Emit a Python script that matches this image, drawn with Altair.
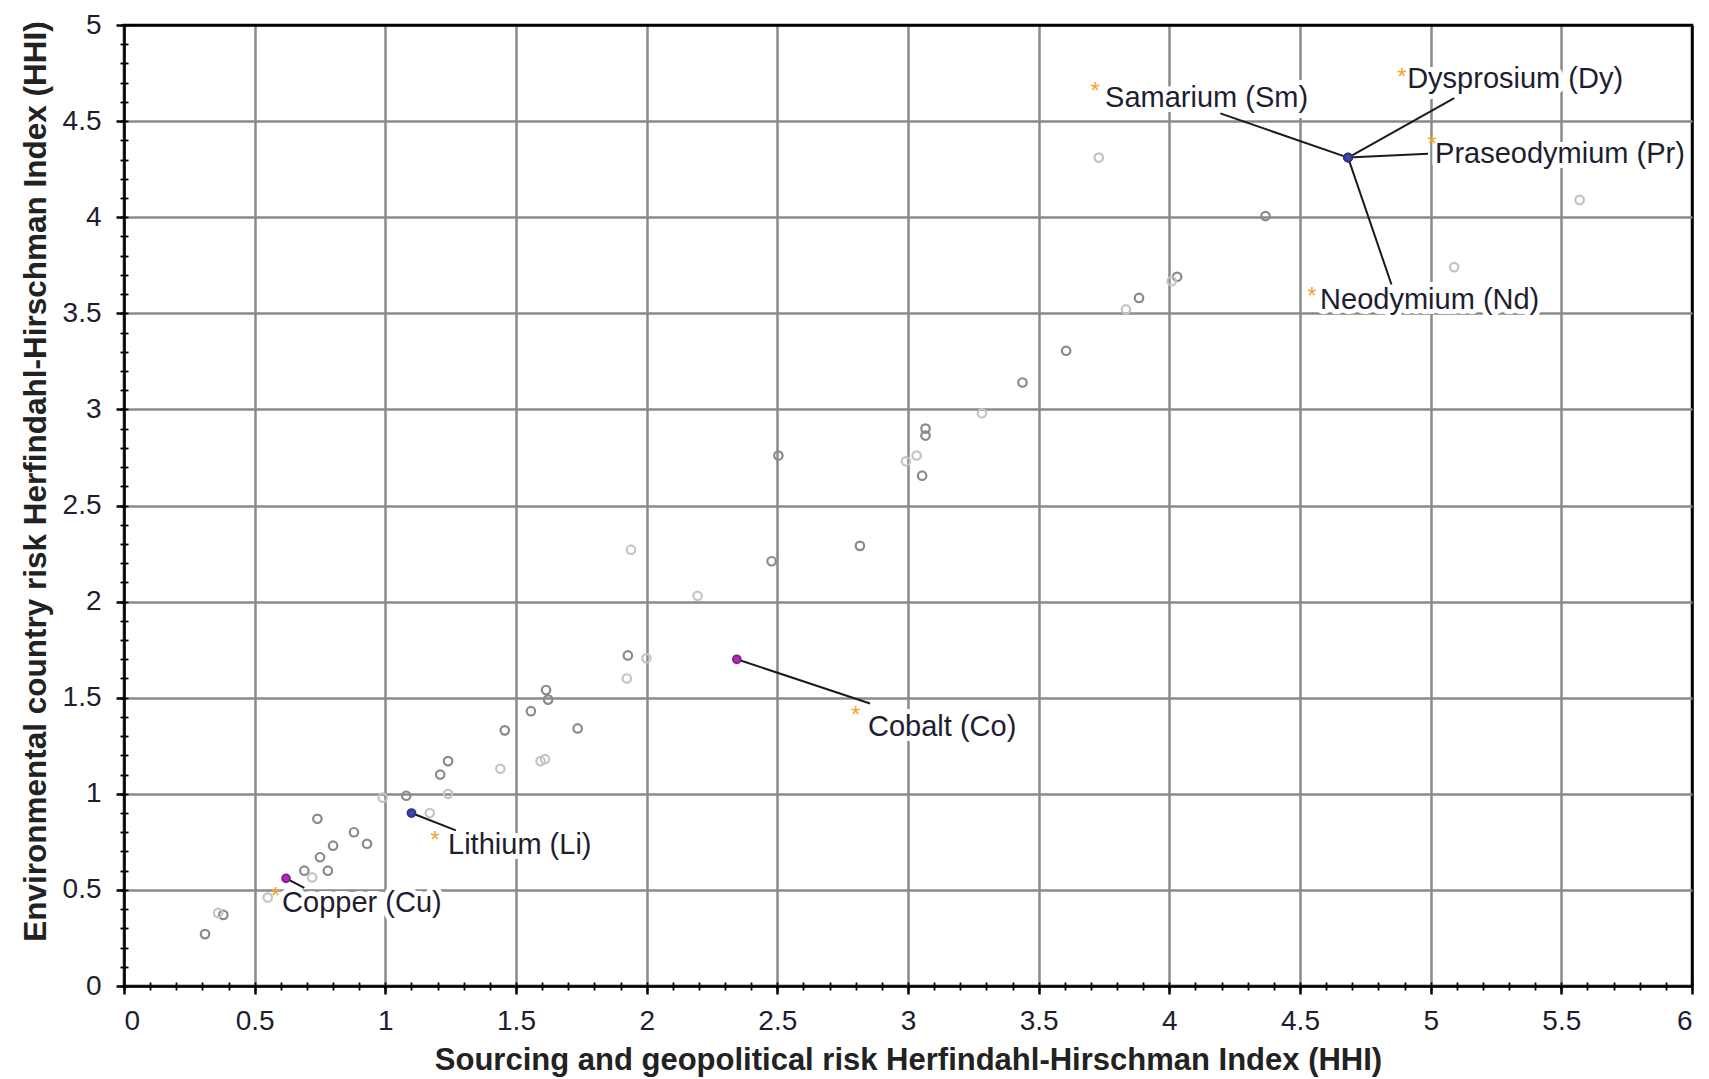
import altair as alt
import pandas as pd

# ---- background (unlabelled) materials: two grey tones ----
dark_x = [0.31, 0.38, 0.69, 0.78, 0.74, 0.75, 0.80, 0.88, 0.93, 1.08, 1.21, 1.24, 1.457, 1.557,
          1.615, 1.623, 1.736, 1.928, 2.478, 2.504, 2.816, 3.054, 3.067, 3.067, 3.438, 3.605,
          3.884, 4.03, 4.368]
dark_y = [0.27, 0.37, 0.60, 0.60, 0.87, 0.67, 0.73, 0.80, 0.74, 0.99, 1.10, 1.17, 1.33, 1.43,
          1.54, 1.49, 1.34, 1.72, 2.21, 2.76, 2.29, 2.655, 2.90, 2.864, 3.14, 3.305,
          3.58, 3.69, 4.006]
light_x = [0.36, 0.55, 0.72, 0.99, 1.17, 1.24, 1.44, 1.594, 1.611, 1.924, 1.94, 1.999, 2.195,
           2.992, 3.033, 3.283, 3.73, 3.834, 4.009, 5.09, 5.57]
light_y = [0.38, 0.46, 0.565, 0.98, 0.90, 1.00, 1.13, 1.17, 1.18, 1.60, 2.27, 1.705, 2.03,
           2.73, 2.76, 2.98, 4.31, 3.52, 3.667, 3.74, 4.09]

# ---- labelled materials ----
names = ["Copper (Cu)", "Lithium (Li)", "Cobalt (Co)", "Samarium (Sm)",
         "Dysprosium (Dy)", "Praseodymium (Pr)", "Neodymium (Nd)"]
group = ["purple", "blue", "purple", "blue", "blue", "blue", "blue"]
pt_x = [0.62, 1.10, 2.345, 4.684, 4.684, 4.684, 4.684]
pt_y = [0.56, 0.90, 1.70, 4.31, 4.31, 4.31, 4.31]
star_x = [0.58, 1.19, 2.80, 3.716, 4.89, 5.006, 4.546]
star_y = [0.50, 0.79, 1.44, 4.69, 4.76, 4.41, 3.62]
text_x = [0.605, 1.24, 2.847, 3.754, 4.91, 5.017, 4.577]
text_y = [0.43, 0.733, 1.35, 4.62, 4.718, 4.33, 3.57]
lead_x = [0.69, 1.27, 2.855, 4.195, 5.09, 4.99, 4.85]
lead_y = [0.51, 0.81, 1.47, 4.54, 4.62, 4.33, 3.65]

x_ticks = [i * 0.5 for i in range(13)]
y_ticks = [i * 0.5 for i in range(11)]
x_minor = [round(i * 0.1, 1) for i in range(61)]
y_minor = [round(i * 0.1, 1) for i in range(51)]

bg = pd.DataFrame({
    "x": dark_x + light_x,
    "y": dark_y + light_y,
    "tone": ["dark"] * len(dark_x) + ["light"] * len(light_x),
})
hl = pd.DataFrame({
    "name": names, "group": group, "px": pt_x, "py": pt_y,
    "sx": star_x, "sy": star_y, "tx": text_x, "ty": text_y,
    "ex": lead_x, "ey": lead_y,
})

FONT = "Liberation Sans"
TXT = "#1e1e30"
xs = alt.Scale(domain=[0, 6], nice=False, zero=False)
ys = alt.Scale(domain=[0, 5], nice=False, zero=False)

x_axis = alt.Axis(
    orient="bottom", values=x_ticks, format="~g", title="Sourcing and geopolitical risk Herfindahl-Hirschman Index (HHI)",
    grid=True, gridColor={"condition": {"test": "datum.value === 6", "value": "black"}, "value": "#8a8a8a"},
    gridWidth=2.5, domainColor="black", domainWidth=2.5, tickColor="black", tickWidth=2.5, tickSize=8,
    labelFontSize=28, labelFont=FONT, labelColor=TXT, labelPadding=13,
    titleFontSize=31, titleFont=FONT, titleFontWeight="bold", titleColor="#222",
    titleX=784, titleY=74, titleAlign="center", titleBaseline="middle", titleAnchor=None,
)
y_axis = alt.Axis(
    orient="left", values=y_ticks, format="~g", title="Environmental country risk Herfindahl-Hirschman Index (HHI)",
    grid=True, gridColor={"condition": {"test": "datum.value === 5", "value": "black"}, "value": "#8a8a8a"},
    gridWidth=2.5, domainColor="black", domainWidth=2.5, tickColor="black", tickWidth=2.5, tickSize=8,
    labelFontSize=28, labelFont=FONT, labelColor=TXT, labelPadding=15,
    titleFontSize=31.5, titleFont=FONT, titleFontWeight="bold", titleColor="#222",
    titleX=-88, titleY=456, titleAngle=270, titleAlign="center", titleBaseline="middle",
)
x_minor_axis = alt.Axis(orient="bottom", values=x_minor, labels=False, grid=False, domain=False,
                        tickColor="black", tickWidth=1.8, tickSize=8, offset=-4, title=None)
y_minor_axis = alt.Axis(orient="left", values=y_minor, labels=False, grid=False, domain=False,
                        tickColor="black", tickWidth=1.8, tickSize=8, offset=-4, title=None)

# white halo behind labels (hides grid behind the text)
halo = alt.Chart(hl).mark_text(
    align="left", baseline="middle", fontSize=29, font=FONT,
    color="white", stroke="white", strokeWidth=10, strokeJoin="round",
).encode(
    x=alt.X("tx:Q", scale=xs, axis=None),
    y=alt.Y("ty:Q", scale=ys, axis=None),
    text="name:N",
)

grey = alt.Chart(bg).mark_point(filled=False, size=72, strokeWidth=2.2, opacity=1).encode(
    x=alt.X("x:Q", scale=xs, axis=x_axis),
    y=alt.Y("y:Q", scale=ys, axis=y_axis),
    color=alt.Color("tone:N", scale=alt.Scale(domain=["dark", "light"], range=["#8a8a8a", "#c4c4c4"]), legend=None),
)

minor = alt.Chart(bg).mark_point(opacity=0).encode(
    x=alt.X("x:Q", scale=xs, axis=x_minor_axis),
    y=alt.Y("y:Q", scale=ys, axis=y_minor_axis),
)

leaders = alt.Chart(hl).mark_rule(color="#1a1a1a", strokeWidth=2).encode(
    x=alt.X("px:Q", scale=xs, axis=None),
    y=alt.Y("py:Q", scale=ys, axis=None),
    x2="ex:Q", y2="ey:Q",
)

hl_pts = alt.Chart(hl).mark_point(filled=True, size=60, opacity=1).encode(
    x=alt.X("px:Q", scale=xs, axis=None),
    y=alt.Y("py:Q", scale=ys, axis=None),
    fill=alt.Fill("group:N", scale=alt.Scale(domain=["purple", "blue"], range=["#b12ab4", "#4545a8"]), legend=None),
    stroke=alt.Stroke("group:N", scale=alt.Scale(domain=["purple", "blue"], range=["#8a1f8c", "#333388"]), legend=None),
)

stars = alt.Chart(hl).mark_text(
    text="*", align="center", baseline="alphabetic", dy=14, fontSize=24, font=FONT, color="#f5a531",
).encode(
    x=alt.X("sx:Q", scale=xs, axis=None),
    y=alt.Y("sy:Q", scale=ys, axis=None),
)

labels = alt.Chart(hl).mark_text(
    align="left", baseline="middle", fontSize=29, font=FONT, color=TXT,
).encode(
    x=alt.X("tx:Q", scale=xs, axis=None),
    y=alt.Y("ty:Q", scale=ys, axis=None),
    text="name:N",
)

chart = alt.layer(halo, grey, minor, leaders, hl_pts, stars, labels).resolve_axis(
    x="independent", y="independent"
).properties(
    width=1568, height=961,
    autosize=alt.AutoSizeParams(type="none"),
    padding={"left": 116, "top": 17, "right": 9, "bottom": 100},
    background="white",
).configure_view(stroke="black", strokeWidth=2.5)

chart.save("out.html", embed_options={"renderer": "svg", "actions": False})
